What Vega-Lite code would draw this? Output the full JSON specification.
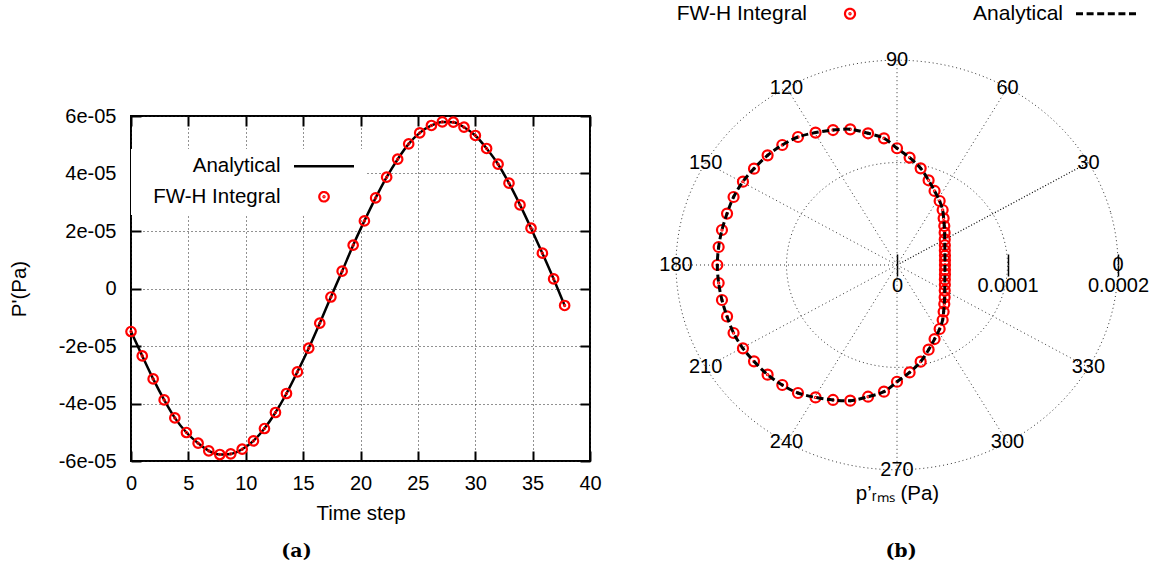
{
  "$schema": "https://vega.github.io/schema/vega-lite/v6.json",
  "padding": {"left": 8, "top": 3, "right": 5, "bottom": 5},
  "background": "white",
  "config": {
    "font": "Liberation Sans",
    "view": {"stroke": null},
    "axis": {"labelFont": "Liberation Sans", "labelFontSize": 20, "labelColor": "black", "titleFont": "Liberation Sans", "titleFontSize": 20.5, "titleFontWeight": "normal", "titleColor": "black", "tickColor": "black", "tickWidth": 2, "gridColor": "#222222", "gridDash": [1, 3], "gridOpacity": 1, "gridWidth": 1, "labelFlush": false, "labelOverlap": false, "domain": false},
    "legend": {"labelFont": "Liberation Sans", "labelColor": "black"},
    "text": {"font": "Liberation Sans", "color": "black"}
  },
  "datasets": {
    "ts": [
      {"step": 0.00, "p": -1.496e-5}, {"step": 0.98, "p": -2.344e-5}, {"step": 1.93, "p": -3.144e-5}, {"step": 2.89, "p": -3.875e-5},
      {"step": 3.82, "p": -4.501e-5}, {"step": 4.83, "p": -5.009e-5}, {"step": 5.85, "p": -5.381e-5}, {"step": 6.78, "p": -5.649e-5},
      {"step": 7.74, "p": -5.774e-5}, {"step": 8.69, "p": -5.753e-5}, {"step": 9.69, "p": -5.590e-5}, {"step": 10.67, "p": -5.301e-5},
      {"step": 11.63, "p": -4.870e-5}, {"step": 12.59, "p": -4.313e-5}, {"step": 13.55, "p": -3.652e-5}, {"step": 14.50, "p": -2.901e-5},
      {"step": 15.49, "p": -2.077e-5}, {"step": 16.45, "p": -1.207e-5}, {"step": 17.42, "p": -0.296e-5}, {"step": 18.40, "p": 0.602e-5},
      {"step": 19.36, "p": 1.506e-5}, {"step": 20.34, "p": 2.351e-5}, {"step": 21.32, "p": 3.151e-5}, {"step": 22.28, "p": 3.871e-5},
      {"step": 23.24, "p": 4.497e-5}, {"step": 24.20, "p": 5.030e-5}, {"step": 25.16, "p": 5.412e-5}, {"step": 26.18, "p": 5.670e-5},
      {"step": 27.13, "p": 5.795e-5}, {"step": 28.09, "p": 5.784e-5}, {"step": 29.02, "p": 5.610e-5}, {"step": 30.01, "p": 5.322e-5},
      {"step": 30.99, "p": 4.870e-5}, {"step": 31.99, "p": 4.323e-5}, {"step": 32.94, "p": 3.663e-5}, {"step": 33.90, "p": 2.908e-5},
      {"step": 34.86, "p": 2.097e-5}, {"step": 35.85, "p": 1.228e-5}, {"step": 36.83, "p": 0.334e-5}, {"step": 37.79, "p": -0.591e-5}
    ],
    "polar": [
      {"theta": 0, "x": 4.34e-5, "y": 0}, {"theta": 6, "x": 4.34e-5, "y": 0.46e-5}, {"theta": 12, "x": 4.34e-5, "y": 0.92e-5},
      {"theta": 18, "x": 4.33e-5, "y": 1.41e-5}, {"theta": 24, "x": 4.33e-5, "y": 1.93e-5}, {"theta": 30, "x": 4.32e-5, "y": 2.50e-5},
      {"theta": 36, "x": 4.31e-5, "y": 3.16e-5}, {"theta": 42, "x": 4.28e-5, "y": 3.81e-5}, {"theta": 48, "x": 4.22e-5, "y": 4.56e-5},
      {"theta": 54, "x": 4.13e-5, "y": 5.37e-5}, {"theta": 60, "x": 3.86e-5, "y": 6.25e-5}, {"theta": 66, "x": 3.40e-5, "y": 7.23e-5},
      {"theta": 72, "x": 2.86e-5, "y": 8.27e-5}, {"theta": 78, "x": 2.14e-5, "y": 9.44e-5}, {"theta": 84, "x": 1.14e-5, "y": 1.049e-4},
      {"theta": 90, "x": 0, "y": 1.140e-4}, {"theta": 96, "x": -1.18e-5, "y": 1.237e-4}, {"theta": 102, "x": -2.62e-5, "y": 1.286e-4},
      {"theta": 108, "x": -4.23e-5, "y": 1.325e-4}, {"theta": 114, "x": -5.79e-5, "y": 1.318e-4}, {"theta": 120, "x": -7.37e-5, "y": 1.293e-4},
      {"theta": 126, "x": -8.96e-5, "y": 1.250e-4}, {"theta": 132, "x": -1.038e-4, "y": 1.172e-4}, {"theta": 138, "x": -1.171e-4, "y": 1.071e-4},
      {"theta": 144, "x": -1.294e-4, "y": 9.41e-5}, {"theta": 150, "x": -1.394e-4, "y": 8.14e-5}, {"theta": 156, "x": -1.479e-4, "y": 6.64e-5},
      {"theta": 162, "x": -1.538e-4, "y": 5.02e-5}, {"theta": 168, "x": -1.584e-4, "y": 3.42e-5}, {"theta": 174, "x": -1.614e-4, "y": 1.76e-5},
      {"theta": 180, "x": -1.626e-4, "y": 0},
      {"theta": 186, "x": -1.614e-4, "y": -1.76e-5}, {"theta": 192, "x": -1.584e-4, "y": -3.42e-5}, {"theta": 198, "x": -1.538e-4, "y": -5.02e-5},
      {"theta": 204, "x": -1.479e-4, "y": -6.64e-5}, {"theta": 210, "x": -1.394e-4, "y": -8.14e-5}, {"theta": 216, "x": -1.294e-4, "y": -9.41e-5},
      {"theta": 222, "x": -1.171e-4, "y": -1.071e-4}, {"theta": 228, "x": -1.038e-4, "y": -1.172e-4}, {"theta": 234, "x": -8.96e-5, "y": -1.250e-4},
      {"theta": 240, "x": -7.37e-5, "y": -1.293e-4}, {"theta": 246, "x": -5.79e-5, "y": -1.318e-4}, {"theta": 252, "x": -4.23e-5, "y": -1.325e-4},
      {"theta": 258, "x": -2.62e-5, "y": -1.286e-4}, {"theta": 264, "x": -1.18e-5, "y": -1.237e-4}, {"theta": 270, "x": 0, "y": -1.140e-4},
      {"theta": 276, "x": 1.14e-5, "y": -1.049e-4}, {"theta": 282, "x": 2.14e-5, "y": -9.44e-5}, {"theta": 288, "x": 2.86e-5, "y": -8.27e-5},
      {"theta": 294, "x": 3.40e-5, "y": -7.23e-5}, {"theta": 300, "x": 3.86e-5, "y": -6.25e-5}, {"theta": 306, "x": 4.13e-5, "y": -5.37e-5},
      {"theta": 312, "x": 4.22e-5, "y": -4.56e-5}, {"theta": 318, "x": 4.28e-5, "y": -3.81e-5}, {"theta": 324, "x": 4.31e-5, "y": -3.16e-5},
      {"theta": 330, "x": 4.32e-5, "y": -2.50e-5}, {"theta": 336, "x": 4.33e-5, "y": -1.93e-5}, {"theta": 342, "x": 4.33e-5, "y": -1.41e-5},
      {"theta": 348, "x": 4.34e-5, "y": -0.92e-5}, {"theta": 354, "x": 4.34e-5, "y": -0.46e-5}
    ],
    "rings": [
      {"r": 1, "a": 0, "x": 1e-4, "y": 0}, {"r": 1, "a": 15, "x": 9.659e-5, "y": 2.588e-5}, {"r": 1, "a": 30, "x": 8.660e-5, "y": 5e-5},
      {"r": 1, "a": 45, "x": 7.071e-5, "y": 7.071e-5}, {"r": 1, "a": 60, "x": 5e-5, "y": 8.660e-5}, {"r": 1, "a": 75, "x": 2.588e-5, "y": 9.659e-5},
      {"r": 1, "a": 90, "x": 0, "y": 1e-4}, {"r": 1, "a": 105, "x": -2.588e-5, "y": 9.659e-5}, {"r": 1, "a": 120, "x": -5e-5, "y": 8.660e-5},
      {"r": 1, "a": 135, "x": -7.071e-5, "y": 7.071e-5}, {"r": 1, "a": 150, "x": -8.660e-5, "y": 5e-5}, {"r": 1, "a": 165, "x": -9.659e-5, "y": 2.588e-5},
      {"r": 1, "a": 180, "x": -1e-4, "y": 0}, {"r": 1, "a": 195, "x": -9.659e-5, "y": -2.588e-5}, {"r": 1, "a": 210, "x": -8.660e-5, "y": -5e-5},
      {"r": 1, "a": 225, "x": -7.071e-5, "y": -7.071e-5}, {"r": 1, "a": 240, "x": -5e-5, "y": -8.660e-5}, {"r": 1, "a": 255, "x": -2.588e-5, "y": -9.659e-5},
      {"r": 1, "a": 270, "x": 0, "y": -1e-4}, {"r": 1, "a": 285, "x": 2.588e-5, "y": -9.659e-5}, {"r": 1, "a": 300, "x": 5e-5, "y": -8.660e-5},
      {"r": 1, "a": 315, "x": 7.071e-5, "y": -7.071e-5}, {"r": 1, "a": 330, "x": 8.660e-5, "y": -5e-5}, {"r": 1, "a": 345, "x": 9.659e-5, "y": -2.588e-5},
      {"r": 2, "a": 0, "x": 2e-4, "y": 0}, {"r": 2, "a": 15, "x": 1.9319e-4, "y": 5.176e-5}, {"r": 2, "a": 30, "x": 1.7321e-4, "y": 1e-4},
      {"r": 2, "a": 45, "x": 1.4142e-4, "y": 1.4142e-4}, {"r": 2, "a": 60, "x": 1e-4, "y": 1.7321e-4}, {"r": 2, "a": 75, "x": 5.176e-5, "y": 1.9319e-4},
      {"r": 2, "a": 90, "x": 0, "y": 2e-4}, {"r": 2, "a": 105, "x": -5.176e-5, "y": 1.9319e-4}, {"r": 2, "a": 120, "x": -1e-4, "y": 1.7321e-4},
      {"r": 2, "a": 135, "x": -1.4142e-4, "y": 1.4142e-4}, {"r": 2, "a": 150, "x": -1.7321e-4, "y": 1e-4}, {"r": 2, "a": 165, "x": -1.9319e-4, "y": 5.176e-5},
      {"r": 2, "a": 180, "x": -2e-4, "y": 0}, {"r": 2, "a": 195, "x": -1.9319e-4, "y": -5.176e-5}, {"r": 2, "a": 210, "x": -1.7321e-4, "y": -1e-4},
      {"r": 2, "a": 225, "x": -1.4142e-4, "y": -1.4142e-4}, {"r": 2, "a": 240, "x": -1e-4, "y": -1.7321e-4}, {"r": 2, "a": 255, "x": -5.176e-5, "y": -1.9319e-4},
      {"r": 2, "a": 270, "x": 0, "y": -2e-4}, {"r": 2, "a": 285, "x": 5.176e-5, "y": -1.9319e-4}, {"r": 2, "a": 300, "x": 1e-4, "y": -1.7321e-4},
      {"r": 2, "a": 315, "x": 1.4142e-4, "y": -1.4142e-4}, {"r": 2, "a": 330, "x": 1.7321e-4, "y": -1e-4}, {"r": 2, "a": 345, "x": 1.9319e-4, "y": -5.176e-5}
    ],
    "angles": [
      {"a": 0, "x": 2e-4, "y": 0, "label": "0"}, {"a": 30, "x": 1.7321e-4, "y": 1e-4, "label": "30"},
      {"a": 60, "x": 1e-4, "y": 1.7321e-4, "label": "60"}, {"a": 90, "x": 0, "y": 2e-4, "label": "90"},
      {"a": 120, "x": -1e-4, "y": 1.7321e-4, "label": "120"}, {"a": 150, "x": -1.7321e-4, "y": 1e-4, "label": "150"},
      {"a": 180, "x": -2e-4, "y": 0, "label": "180"}, {"a": 210, "x": -1.7321e-4, "y": -1e-4, "label": "210"},
      {"a": 240, "x": -1e-4, "y": -1.7321e-4, "label": "240"}, {"a": 270, "x": 0, "y": -2e-4, "label": "270"},
      {"a": 300, "x": 1e-4, "y": -1.7321e-4, "label": "300"}, {"a": 330, "x": 1.7321e-4, "y": -1e-4, "label": "330"}
    ]
  },
  "hconcat": [
    {
      "width": 459,
      "height": 345,
      "view": {"stroke": "black", "strokeWidth": 2},
      "title": {"text": "(a)", "orient": "bottom", "frame": "group", "anchor": "middle", "dx": -64, "offset": 18, "font": "DejaVu Serif", "fontWeight": "bold", "fontSize": 19, "color": "black"},
      "data": {"name": "ts"},
      "layer": [
        {
          "mark": {"type": "line", "interpolate": "monotone", "strokeWidth": 2.5},
          "encoding": {
            "x": {"field": "step", "type": "quantitative", "scale": {"domain": [0, 40], "nice": false, "zero": false},
                  "axis": {"orient": "bottom", "values": [0, 5, 10, 15, 20, 25, 30, 35, 40], "title": "Time step", "tickSize": -10, "labelPadding": 22, "titlePadding": 10, "grid": true}},
            "y": {"field": "p", "type": "quantitative", "scale": {"domain": [-0.00006, 0.00006], "nice": false, "zero": false},
                  "axis": {"orient": "left", "values": [-0.00006, -0.00004, -0.00002, 0, 0.00002, 0.00004, 0.00006],
                           "labelExpr": "datum.value == 0 ? '0' : replace(replace(format(datum.value, '.0e'), '\u2212', '-'), 'e-', 'e-0')",
                           "title": "P'(Pa)", "tickSize": -10, "labelPadding": 25, "titlePadding": 29, "grid": true}},
            "color": {"datum": "Analytical", "type": "nominal",
                      "scale": {"domain": ["Analytical", "FW-H Integral"], "range": ["black", "red"]},
                      "legend": {"orient": "none", "legendX": 0, "legendY": 33, "title": null, "direction": "vertical",
                                 "labelFontSize": 20.5, "labelAlign": "right", "fillColor": "white", "padding": 7, "rowPadding": 9.5, "symbolSize": 100,
                                 "encode": {
                                   "entries": {"update": {"width": {"value": 224}}},
                                   "labels": {"update": {"x": {"value": 142.5}}},
                                   "symbols": {"update": {
                                     "x": {"value": 186},
                                     "shape": {"signal": "datum.value === 'Analytical' ? 'stroke' : 'M-1,0A1,1 0 1,0 1,0A1,1 0 1,0 -1,0M-0.12,0A0.12,0.12 0 1,0 0.12,0A0.12,0.12 0 1,0 -0.12,0'"},
                                     "size": {"signal": "datum.value === 'Analytical' ? 3600 : 90"},
                                     "stroke": {"signal": "datum.value === 'Analytical' ? 'black' : 'red'"},
                                     "strokeWidth": {"signal": "datum.value === 'Analytical' ? 2.5 : 2.2"},
                                     "strokeDash": {"signal": "[1,0]"},
                                     "fill": {"value": "transparent"},
                                     "opacity": {"value": 1}
                                   }}
                                 }}}
          }
        },
        {
          "mark": {"type": "point", "shape": "M-1,0A1,1 0 1,0 1,0A1,1 0 1,0 -1,0M-0.12,0A0.12,0.12 0 1,0 0.12,0A0.12,0.12 0 1,0 -0.12,0", "size": 90, "filled": false, "strokeWidth": 2.2, "opacity": 1},
          "encoding": {
            "x": {"field": "step", "type": "quantitative", "axis": null},
            "y": {"field": "p", "type": "quantitative", "axis": null},
            "color": {"datum": "FW-H Integral", "type": "nominal"}
          }
        },
        {
          "mark": {"type": "point", "opacity": 0},
          "encoding": {
            "x": {"field": "step", "type": "quantitative", "axis": {"orient": "top", "values": [0, 5, 10, 15, 20, 25, 30, 35, 40], "labels": false, "title": null, "grid": false, "tickSize": -10}},
            "y": {"field": "p", "type": "quantitative", "axis": {"orient": "right", "values": [-0.00006, -0.00004, -0.00002, 0, 0.00002, 0.00004, 0.00006], "labels": false, "title": null, "grid": false, "tickSize": -10}}
          }
        }
      ],
      "resolve": {"axis": {"x": "independent", "y": "independent"}}
    },
    {
      "width": 442,
      "height": 345,
      "view": {"stroke": null},
      "title": {"text": "(b)", "orient": "bottom", "frame": "group", "anchor": "middle", "dx": 4, "offset": 38, "font": "DejaVu Serif", "fontWeight": "bold", "fontSize": 19, "color": "black"},
      "layer": [
        {
          "data": {"name": "rings"},
          "mark": {"type": "line", "interpolate": "cardinal-closed", "strokeDash": [1, 3], "color": "#333333", "strokeWidth": 1},
          "encoding": {
            "x": {"field": "x", "type": "quantitative", "scale": {"domain": [-0.0002, 0.0002], "nice": false, "zero": false},
                  "axis": {"orient": "bottom", "offset": -196, "values": [0, 0.0001, 0.0002], "labelExpr": "datum.value == 0 ? '0' : format(datum.value, '.4f')",
                           "grid": false, "ticks": true, "tickSize": 11, "tickWidth": 1.5, "labelPadding": -1, "title": "p\u2019\u1d63\u2098\u209b (Pa)", "titlePadding": 188}},
            "y": {"field": "y", "type": "quantitative", "scale": {"domain": [-0.0001914, 0.0001455], "nice": false, "zero": false}, "axis": null},
            "detail": {"field": "r", "type": "nominal"},
            "order": {"field": "a", "type": "quantitative"}
          }
        },
        {
          "data": {"name": "angles"},
          "transform": [{"filter": "datum.a != 0 && datum.a != 30"}],
          "mark": {"type": "rule", "strokeDash": [1, 3], "color": "#333333", "strokeWidth": 1},
          "encoding": {
            "x": {"field": "x", "type": "quantitative", "axis": null},
            "y": {"field": "y", "type": "quantitative", "axis": null},
            "x2": {"datum": 0},
            "y2": {"datum": 0}
          }
        },
        {
          "data": {"name": "angles"},
          "transform": [{"filter": "datum.a == 30"}],
          "mark": {"type": "rule", "strokeDash": [1, 2], "color": "black", "strokeWidth": 1.2},
          "encoding": {
            "x": {"field": "x", "type": "quantitative", "axis": null},
            "y": {"field": "y", "type": "quantitative", "axis": null},
            "x2": {"datum": 0},
            "y2": {"datum": 0}
          }
        },
        {
          "mark": {"type": "rule", "color": "black", "strokeWidth": 1.5},
          "encoding": {
            "x": {"datum": 0, "type": "quantitative",
                  "axis": {"orient": "top", "offset": -149, "values": [0, 0.0001, 0.0002], "labels": false, "grid": false, "ticks": true, "tickSize": 11, "tickWidth": 1.5, "title": null}},
            "x2": {"datum": 0.0002},
            "y": {"datum": 0, "type": "quantitative", "axis": null}
          }
        },
        {
          "data": {"name": "polar"},
          "mark": {"type": "point", "shape": "M-1,0A1,1 0 1,0 1,0A1,1 0 1,0 -1,0M-0.12,0A0.12,0.12 0 1,0 0.12,0A0.12,0.12 0 1,0 -0.12,0", "size": 100, "filled": false, "strokeWidth": 2.2, "opacity": 1},
          "encoding": {
            "x": {"field": "x", "type": "quantitative", "axis": null},
            "y": {"field": "y", "type": "quantitative", "axis": null},
            "color": {"datum": "FW-H Integral", "type": "nominal",
                      "scale": {"domain": ["FW-H Integral", "Analytical"], "range": ["red", "black"]},
                      "legend": {"orient": "none", "legendX": -1, "legendY": -113, "title": null, "direction": "horizontal", "columns": 2, "columnPadding": 71,
                                 "labelFontSize": 21, "labelAlign": "right", "padding": 0, "symbolSize": 100,
                                 "encode": {
                                   "entries": {"update": {"width": {"value": 1}}},
                                   "labels": {"update": {"x": {"value": 132}}},
                                   "symbols": {"update": {
                                     "x": {"value": 175},
                                     "shape": {"signal": "datum.value === 'Analytical' ? 'stroke' : 'M-1,0A1,1 0 1,0 1,0A1,1 0 1,0 -1,0M-0.12,0A0.12,0.12 0 1,0 0.12,0A0.12,0.12 0 1,0 -0.12,0'"},
                                     "size": {"signal": "datum.value === 'Analytical' ? 3600 : 100"},
                                     "stroke": {"signal": "datum.value === 'Analytical' ? 'black' : 'red'"},
                                     "strokeWidth": {"signal": "datum.value === 'Analytical' ? 3 : 2.2"},
                                     "strokeDash": {"signal": "datum.value === 'Analytical' ? [7, 3.6] : [1, 0]"},
                                     "fill": {"value": "transparent"},
                                     "opacity": {"value": 1}
                                   }}
                                 }}}
          }
        },
        {
          "data": {"name": "polar"},
          "mark": {"type": "line", "interpolate": "cardinal-closed", "strokeDash": [7, 3.6], "strokeWidth": 3},
          "encoding": {
            "x": {"field": "x", "type": "quantitative", "axis": null},
            "y": {"field": "y", "type": "quantitative", "axis": null},
            "order": {"field": "theta", "type": "quantitative"},
            "color": {"datum": "Analytical", "type": "nominal",
                      "legend": {"orient": "none", "legendX": -1, "legendY": -113, "title": null, "direction": "horizontal", "columns": 2, "columnPadding": 71,
                                 "labelFontSize": 21, "labelAlign": "right", "padding": 0, "symbolSize": 100,
                                 "encode": {
                                   "entries": {"update": {"width": {"value": 1}}},
                                   "labels": {"update": {"x": {"value": 132}}},
                                   "symbols": {"update": {
                                     "x": {"value": 175},
                                     "shape": {"signal": "datum.value === 'Analytical' ? 'stroke' : 'M-1,0A1,1 0 1,0 1,0A1,1 0 1,0 -1,0M-0.12,0A0.12,0.12 0 1,0 0.12,0A0.12,0.12 0 1,0 -0.12,0'"},
                                     "size": {"signal": "datum.value === 'Analytical' ? 3600 : 100"},
                                     "stroke": {"signal": "datum.value === 'Analytical' ? 'black' : 'red'"},
                                     "strokeWidth": {"signal": "datum.value === 'Analytical' ? 3 : 2.2"},
                                     "strokeDash": {"signal": "datum.value === 'Analytical' ? [7, 3.6] : [1, 0]"},
                                     "fill": {"value": "transparent"},
                                     "opacity": {"value": 1}
                                   }}
                                 }}}
          }
        },
        {
          "data": {"name": "angles"},
          "mark": {"type": "text", "fontSize": 20, "align": "center", "baseline": "middle", "color": "black"},
          "encoding": {
            "x": {"field": "x", "type": "quantitative", "axis": null},
            "y": {"field": "y", "type": "quantitative", "axis": null},
            "text": {"field": "label"}
          }
        }
      ],
      "resolve": {"axis": {"x": "independent"}}
    }
  ],
  "spacing": 86,
  "bounds": "flush",
  "resolve": {"scale": {"color": "independent", "x": "independent", "y": "independent"}, "legend": {"color": "independent"}}
}
